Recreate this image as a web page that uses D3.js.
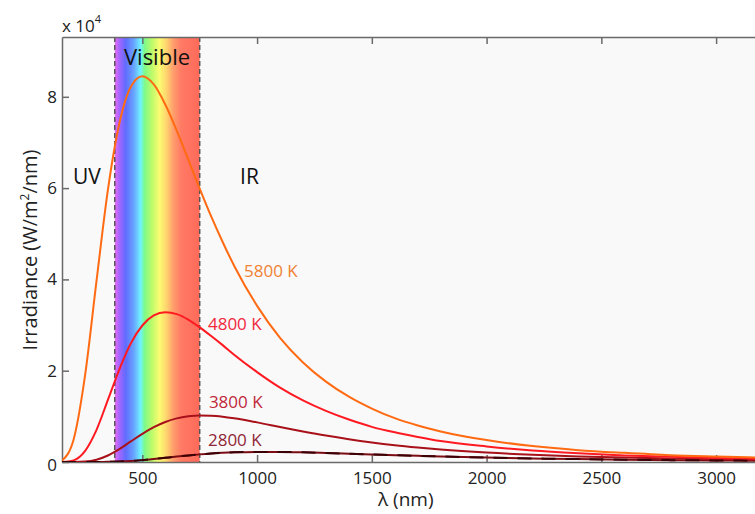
<!DOCTYPE html>
<html>
<head>
<meta charset="utf-8">
<script src="https://cdn.jsdelivr.net/npm/d3@7"></script>
<style>
  html, body { margin: 0; padding: 0; background: #fff; overflow: hidden; }
  svg { display: block; font-family: "Open Sans", "Noto Sans", sans-serif; }
</style>
</head>
<body>
<div id="chart"></div>
<script>
// wavelength samples (nm)
const wavelengths = [150, 200, 250, 300, 350, 400, 450, 500, 550, 600, 650, 700, 750, 800, 850, 900,
  1000, 1100, 1200, 1300, 1400, 1500, 1600, 1700, 1800, 2000, 2200, 2400, 2600, 2800, 3000, 3200]

// irradiance, in units of 1e4 W/m^2/nm
const k5800 = [0.032, 0.48, 1.88, 3.95, 5.96, 7.42, 8.22, 8.45, 8.27, 7.83, 7.26, 6.63, 5.99, 5.38, 4.82, 4.30,
  3.42, 2.72, 2.18, 1.76, 1.43, 1.17, 0.96, 0.80, 0.67, 0.48, 0.35, 0.26, 0.20, 0.15, 0.12, 0.095]
const k4800 = [0.001, 0.036, 0.24, 0.70, 1.36, 2.03, 2.60, 2.99, 3.21, 3.28, 3.24, 3.12, 2.95, 2.76, 2.56, 2.35,
  1.97, 1.63, 1.35, 1.12, 0.93, 0.77, 0.65, 0.55, 0.46, 0.34, 0.25, 0.19, 0.145, 0.113, 0.090, 0.072]
const k3800 = [0, 0.001, 0.010, 0.051, 0.143, 0.283, 0.450, 0.616, 0.762, 0.876, 0.955, 1.001, 1.019, 1.014, 0.992, 0.958,
  0.868, 0.768, 0.670, 0.579, 0.499, 0.429, 0.369, 0.319, 0.275, 0.207, 0.158, 0.122, 0.096, 0.076, 0.061, 0.049]
const k2800 = [0, 0, 0, 0.001, 0.003, 0.010, 0.022, 0.041, 0.065, 0.092, 0.119, 0.144, 0.167, 0.186, 0.200, 0.211,
  0.221, 0.220, 0.211, 0.197, 0.182, 0.166, 0.150, 0.135, 0.121, 0.097, 0.078, 0.063, 0.051, 0.041, 0.034, 0.028]

const seriesNames = ['5800 K', '4800 K', '3800 K', '2800 K']
const seriesValues = [k5800, k4800, k3800, k2800]
const lineColors = ['#ff6a12', '#ff1a22', '#a8101a', '#7a0c14']
const labelColors = ['#f08234', '#f0283c', '#c0283a', '#902636']
const labelAt = [[943, 4.05], [786, 2.89], [790, 1.18], [786, 0.35]]

const xTicks = [500, 1000, 1500, 2000, 2500, 3000]
const yTicks = [0, 2, 4, 6, 8]
const visibleBand = [380, 750]
const bandStops = [
  [380, '#ea6cf5'], [400, '#a466ff'], [428, '#5f6cff'], [465, '#69a8ff'], [492, '#6ef2ff'],
  [510, '#7dfb8a'], [540, '#b9fb6a'], [575, '#fbfb72'], [605, '#ffd46e'], [635, '#ff9e6c'],
  [670, '#ff7a64'], [750, '#ff6a5a']
]

const W = 755, H = 514
const margin = { left: 62, top: 37, right: -7, bottom: 52 }

const svg = d3.select('#chart').append('svg')
  .attr('width', W).attr('height', H)

const x = d3.scaleLinear().domain([150, 3200]).range([margin.left, W - margin.right])
const y = d3.scaleLinear().domain([0, 9.31]).range([H - margin.bottom, margin.top])

const pw = x.range()[1] - margin.left
const ph = y.range()[0] - margin.top

svg.append('rect')
  .attr('x', margin.left).attr('y', margin.top)
  .attr('width', pw).attr('height', ph)
  .attr('fill', '#f9f9f9')

// visible spectrum gradient
const grad = svg.append('defs').append('linearGradient')
  .attr('id', 'spec').attr('x1', '0%').attr('x2', '100%')
grad.selectAll('stop').data(bandStops).join('stop')
  .attr('offset', d => ((d[0] - visibleBand[0]) / (visibleBand[1] - visibleBand[0]) * 100) + '%')
  .attr('stop-color', d => d[1])

svg.append('rect')
  .attr('x', x(visibleBand[0])).attr('y', margin.top)
  .attr('width', x(visibleBand[1]) - x(visibleBand[0])).attr('height', ph)
  .attr('fill', 'url(#spec)')

svg.selectAll('.band-edge').data(visibleBand).join('line')
  .attr('x1', d => x(d)).attr('x2', d => x(d))
  .attr('y1', margin.top).attr('y2', y(0))
  .attr('stroke', '#555').attr('stroke-width', 1.5)
  .attr('stroke-dasharray', '5,3')

// axes, ticks inward
const axisColor = '#6a6a6a'
const axBottom = svg.append('g').attr('transform', `translate(0,${y(0)})`)
  .call(d3.axisBottom(x).tickValues(xTicks).tickFormat(d3.format('d'))
    .tickSizeInner(-7).tickSizeOuter(0).tickPadding(10))
const axTop = svg.append('g').attr('transform', `translate(0,${margin.top})`)
  .call(d3.axisTop(x).tickValues(xTicks).tickSizeInner(-7).tickSizeOuter(0).tickFormat(''))
const axLeft = svg.append('g').attr('transform', `translate(${margin.left},0)`)
  .call(d3.axisLeft(y).tickValues(yTicks).tickSizeInner(-7).tickSizeOuter(0).tickPadding(5))

;[axBottom, axTop, axLeft].forEach(g => {
  g.select('.domain').attr('stroke', axisColor).attr('stroke-width', 1.5)
  g.selectAll('.tick line').attr('stroke', axisColor).attr('stroke-width', 1.5)
  g.selectAll('.tick text').attr('fill', '#222').style('font-size', '17px')
    .style('font-family', '"Open Sans", sans-serif')
})
axLeft.select('.tick text').attr('dy', '0.5em')

// curves
const line = d3.line()
  .x((d, i) => x(wavelengths[i]))
  .y(d => y(d))
  .curve(d3.curveMonotoneX)

svg.append('clipPath').attr('id', 'plot')
  .append('rect').attr('x', margin.left).attr('y', margin.top).attr('width', pw).attr('height', ph)

const curves = svg.append('g').attr('clip-path', 'url(#plot)')
seriesValues.slice().reverse().forEach((vals, j) => {
  const i = seriesValues.length - 1 - j
  curves.append('path')
    .attr('d', line(vals))
    .attr('fill', 'none')
    .attr('stroke', lineColors[i])
    .attr('stroke-width', 2)
})
curves.append('path')
  .attr('d', line(k2800))
  .attr('fill', 'none')
  .attr('stroke', '#3a0006')
  .attr('stroke-width', 2)
  .attr('stroke-dasharray', '14,10')

// series labels
svg.selectAll('.slabel').data(seriesNames).join('text')
  .attr('x', (d, i) => x(labelAt[i][0]))
  .attr('y', (d, i) => y(labelAt[i][1]))
  .attr('fill', (d, i) => labelColors[i])
  .style('font-size', '17px')
  .text(d => d)

// region labels
const region = [['UV', 198, 6.08], ['Visible', 564, 8.7], ['IR', 926, 6.08]]
svg.selectAll('.rlabel').data(region).join('text')
  .attr('x', d => x(d[1])).attr('y', d => y(d[2]))
  .attr('text-anchor', d => d[0] === 'Visible' ? 'middle' : 'start')
  .attr('fill', '#111')
  .style('font-size', d => d[0] === 'Visible' ? '22px' : '21px')
  .text(d => d[0])

// exponent
const expo = svg.append('text').attr('x', 62).attr('y', 32).attr('fill', '#222').style('font-size', '17px')
expo.append('tspan').text('x 10')
expo.append('tspan').attr('dy', -9).style('font-size', '11px').text('4')

// axis titles
svg.append('text')
  .attr('x', 378).attr('y', 506)
  .attr('fill', '#222').style('font-size', '19px')
  .text('λ (nm)')

const yl = svg.append('text')
  .attr('transform', 'translate(37,250) rotate(-90)')
  .attr('text-anchor', 'middle')
  .attr('fill', '#222').style('font-size', '20px')
yl.append('tspan').text('Irradiance (W/m')
yl.append('tspan').attr('dy', -8).style('font-size', '12px').text('2')
yl.append('tspan').attr('dy', 8).text('/nm)')
</script>
</body>
</html>
